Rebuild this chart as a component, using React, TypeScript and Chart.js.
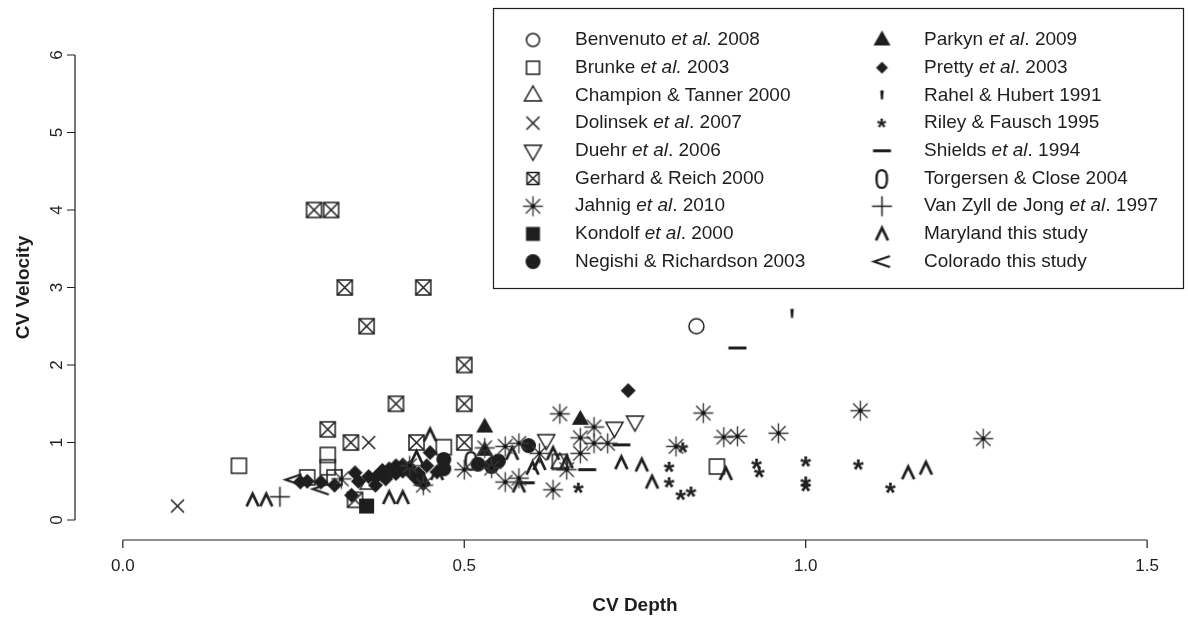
import React, { useEffect, useRef } from "react";
import { Chart, registerables } from "chart.js";

Chart.register(...registerables);

// ---------- axis ticks & titles ----------
const X_TICKS = [0, 0.5, 1.0, 1.5];
const X_TICK_LABELS = ["0.0", "0.5", "1.0", "1.5"];
const Y_TICKS = [0, 1, 2, 3, 4, 5, 6];
const Y_TICK_LABELS = ["0", "1", "2", "3", "4", "5", "6"];
const X_TITLE = "CV Depth";
const Y_TITLE = "CV Velocity";

// ---------- data: [CV depth, CV velocity] ----------
const benvenuto = [[0.84, 2.5]];
const brunke = [[0.17, 0.7], [0.3, 0.84], [0.3, 0.68], [0.31, 0.55], [0.47, 0.94], [0.64, 0.75], [0.87, 0.69], [0.27, 0.55]];
const champion = [[0.36, 0.47], [0.64, 0.74]];
const dolinsek = [[0.08, 0.18], [0.36, 1.0]];
const duehr = [[0.62, 1.03], [0.72, 1.19], [0.75, 1.27]];
const gerhard = [[0.28, 4.0], [0.305, 4.0], [0.325, 3.0], [0.44, 3.0], [0.357, 2.5], [0.5, 2.0], [0.4, 1.5], [0.5, 1.5], [0.3, 1.17], [0.334, 1.0], [0.43, 1.0], [0.5, 1.0], [0.34, 0.26]];
const jahnig = [[0.32, 0.53], [0.42, 0.7], [0.44, 0.45], [0.5, 0.65], [0.53, 0.93], [0.54, 0.67], [0.56, 0.95], [0.56, 0.49], [0.58, 0.99], [0.58, 0.54], [0.61, 0.86], [0.63, 0.39], [0.64, 1.37], [0.65, 0.65], [0.67, 1.06], [0.67, 0.86], [0.69, 1.2], [0.69, 0.99], [0.71, 0.99], [0.81, 0.95], [0.85, 1.38], [0.88, 1.07], [0.9, 1.08], [0.96, 1.12], [1.08, 1.41], [1.26, 1.05]];
const kondolf = [[0.357, 0.18]];
const negishi = [[0.47, 0.78], [0.47, 0.66], [0.55, 0.76], [0.54, 0.69], [0.594, 0.96], [0.52, 0.72]];
const parkyn = [[0.53, 1.2], [0.67, 1.3], [0.53, 0.9]];
const pretty = [[0.26, 0.49], [0.27, 0.5], [0.29, 0.49], [0.31, 0.45], [0.34, 0.61], [0.345, 0.5], [0.335, 0.32], [0.37, 0.45], [0.38, 0.58], [0.39, 0.66], [0.4, 0.7], [0.385, 0.53], [0.41, 0.63], [0.43, 0.53], [0.433, 0.6], [0.45, 0.87], [0.445, 0.7], [0.54, 0.74], [0.74, 1.67], [0.36, 0.56], [0.4, 0.6], [0.42, 0.68], [0.44, 0.47], [0.46, 0.62], [0.37, 0.55], [0.39, 0.6], [0.41, 0.71], [0.42, 0.62], [0.38, 0.64]];
const rahel = [[0.98, 2.66]];
const riley = [[0.82, 0.93], [0.8, 0.68], [0.8, 0.48], [0.817, 0.32], [0.832, 0.36], [0.928, 0.72], [0.932, 0.61], [1.0, 0.75], [1.0, 0.49], [1.0, 0.43], [1.077, 0.71], [1.124, 0.41], [0.667, 0.41]];
const shields = [[0.9, 2.22], [0.73, 0.97], [0.68, 0.65], [0.59, 0.48]];
const torgersen = [[0.51, 0.77]];
const vanZyll = [[0.23, 0.3]];
const maryland = [[0.19, 0.26], [0.21, 0.26], [0.39, 0.29], [0.41, 0.29], [0.43, 0.81], [0.45, 1.1], [0.46, 0.6], [0.44, 0.52], [0.57, 0.86], [0.6, 0.67], [0.61, 0.73], [0.63, 0.86], [0.58, 0.44], [0.73, 0.74], [0.76, 0.71], [0.775, 0.49], [0.883, 0.6], [1.15, 0.61], [1.176, 0.67], [0.65, 0.75]];
const colorado = [[0.25, 0.52], [0.29, 0.4]];

// legend labels: text between | is italic
const SERIES = [
  { label: "Benvenuto |et al.| 2008", sym: "circleOpen", data: benvenuto },
  { label: "Brunke |et al.| 2003", sym: "squareOpen", data: brunke },
  { label: "Champion & Tanner 2000", sym: "triOpen", data: champion },
  { label: "Dolinsek |et al|. 2007", sym: "cross", data: dolinsek },
  { label: "Duehr |et al|. 2006", sym: "triDownOpen", data: duehr },
  { label: "Gerhard & Reich 2000", sym: "boxX", data: gerhard },
  { label: "Jahnig |et al|. 2010", sym: "star", data: jahnig },
  { label: "Kondolf |et al|. 2000", sym: "squareFilled", data: kondolf },
  { label: "Negishi & Richardson 2003", sym: "circleFilled", data: negishi },
  { label: "Parkyn |et al|. 2009", sym: "triFilled", data: parkyn },
  { label: "Pretty |et al|. 2003", sym: "diamondFilled", data: pretty },
  { label: "Rahel & Hubert 1991", sym: "apos", data: rahel },
  { label: "Riley & Fausch 1995", sym: "asterisk", data: riley },
  { label: "Shields |et al|. 1994", sym: "dash", data: shields },
  { label: "Torgersen & Close 2004", sym: "zero", data: torgersen },
  { label: "Van Zyll de Jong |et al|. 1997", sym: "plus", data: vanZyll },
  { label: "Maryland this study", sym: "caret", data: maryland },
  { label: "Colorado this study", sym: "lt", data: colorado },
];

const INK = "#1e1e1e";
const FONT = "'Liberation Sans', Arial, Helvetica, sans-serif";

function makeSymbol(kind: string, legend = false): HTMLCanvasElement {
  const S = 41;
  const c = document.createElement("canvas");
  c.width = S;
  c.height = S;
  const g = c.getContext("2d") as CanvasRenderingContext2D;
  g.translate(S / 2, S / 2);
  g.strokeStyle = INK;
  g.fillStyle = INK;
  g.lineWidth = 1.5;
  const centeredText = (t: string, font: string, sx = 1) => {
    g.font = font;
    const m = g.measureText(t);
    const w = m.actualBoundingBoxLeft + m.actualBoundingBoxRight;
    const h = m.actualBoundingBoxAscent + m.actualBoundingBoxDescent;
    g.save();
    g.scale(sx, 1);
    g.textAlign = "left";
    g.textBaseline = "alphabetic";
    g.fillText(t, -w / 2 + m.actualBoundingBoxLeft, h / 2 - m.actualBoundingBoxDescent);
    g.restore();
  };
  switch (kind) {
    case "circleOpen":
      g.beginPath(); g.arc(0, 0, legend ? 6.5 : 7.5, 0, Math.PI * 2); g.stroke(); break;
    case "squareOpen":
      if (legend) g.strokeRect(-6.5, -6.5, 13, 13); else g.strokeRect(-7.5, -7.5, 15, 15); break;
    case "triOpen":
      g.beginPath(); g.moveTo(0, -9.5); g.lineTo(8.5, 5.5); g.lineTo(-8.5, 5.5); g.closePath(); g.stroke(); break;
    case "triDownOpen":
      g.beginPath(); g.moveTo(0, 9.5); g.lineTo(8.5, -5.5); g.lineTo(-8.5, -5.5); g.closePath(); g.stroke(); break;
    case "cross":
      g.beginPath(); g.moveTo(-6.5, -6.5); g.lineTo(6.5, 6.5); g.moveTo(6.5, -6.5); g.lineTo(-6.5, 6.5); g.stroke(); break;
    case "boxX": {
      const r = legend ? 6 : 7.5;
      g.strokeRect(-r, -r, 2 * r, 2 * r);
      g.beginPath(); g.moveTo(-r, -r); g.lineTo(r, r); g.moveTo(r, -r); g.lineTo(-r, r); g.stroke(); break;
    }
    case "star": {
      g.strokeStyle = "#3a3a3a";
      g.lineWidth = 1.4;
      const r = 10, d = 7.2;
      g.beginPath();
      g.moveTo(-r, 0); g.lineTo(r, 0); g.moveTo(0, -r); g.lineTo(0, r);
      g.moveTo(-d, -d); g.lineTo(d, d); g.moveTo(d, -d); g.lineTo(-d, d);
      g.stroke();
      g.fillStyle = "#111";
      g.fillRect(-1.8, -1.8, 3.6, 3.6);
      break;
    }
    case "squareFilled":
      if (legend) g.fillRect(-7, -7, 14, 14); else g.fillRect(-7.5, -7.5, 15, 15); break;
    case "circleFilled":
      g.beginPath(); g.arc(0, 0, 7.5, 0, Math.PI * 2); g.fill(); break;
    case "triFilled":
      g.beginPath(); g.moveTo(0, -9.5); g.lineTo(8.5, 5.5); g.lineTo(-8.5, 5.5); g.closePath(); g.fill(); break;
    case "diamondFilled": {
      const r = legend ? 6 : 7.5;
      g.beginPath(); g.moveTo(0, -r); g.lineTo(r, 0); g.lineTo(0, r); g.lineTo(-r, 0); g.closePath(); g.fill(); break;
    }
    case "apos":
      g.beginPath(); g.moveTo(-1.7, -5); g.lineTo(1.7, -5); g.lineTo(1.1, 4); g.lineTo(-1.1, 4); g.closePath(); g.fill(); break;
    case "asterisk":
      centeredText("*", "bold " + (legend ? 24 : 28) + "px " + FONT); break;
    case "dash":
      g.fillRect(-9, -1.5, 18, 3); break;
    case "zero":
      centeredText("0", "30px " + FONT, 0.9); break;
    case "plus":
      g.beginPath(); g.moveTo(-10, 0); g.lineTo(10, 0); g.moveTo(0, -10); g.lineTo(0, 10); g.stroke(); break;
    case "caret":
      g.lineWidth = 2.8;
      g.lineJoin = "miter";
      g.beginPath(); g.moveTo(-6, 6.5); g.lineTo(0, -6); g.lineTo(6, 6.5); g.stroke(); break;
    case "lt":
      g.lineWidth = 2.2;
      g.beginPath(); g.moveTo(8, -5.5); g.lineTo(-8, 0); g.lineTo(8, 5.5); g.stroke(); break;
  }
  return c;
}

function drawRich(ctx: CanvasRenderingContext2D, label: string, x: number, y: number, size: number) {
  const parts = label.split("|");
  let cx = x;
  parts.forEach((p, i) => {
    ctx.font = (i % 2 === 1 ? "italic " : "") + size + "px " + FONT;
    ctx.fillText(p, cx, y);
    cx += ctx.measureText(p).width;
  });
}

export default function App() {
  const ref = useRef<HTMLCanvasElement | null>(null);

  useEffect(() => {
    if (!ref.current) return;
    const plotSyms = SERIES.map((s) => makeSymbol(s.sym));
    const legendSyms = SERIES.map((s) => makeSymbol(s.sym, true));

    const rPlugin = {
      id: "rStyle",
      afterDraw(chart: any) {
        const ctx: CanvasRenderingContext2D = chart.ctx;
        const xs = chart.scales.x;
        const ys = chart.scales.y;
        const area = chart.chartArea;
        ctx.save();
        ctx.strokeStyle = INK;
        ctx.fillStyle = INK;
        ctx.lineWidth = 1.2;

        // x axis
        const axY = area.bottom;
        ctx.beginPath();
        ctx.moveTo(xs.getPixelForValue(X_TICKS[0]), axY);
        ctx.lineTo(xs.getPixelForValue(X_TICKS[X_TICKS.length - 1]), axY);
        X_TICKS.forEach((v) => {
          const p = xs.getPixelForValue(v);
          ctx.moveTo(p, axY);
          ctx.lineTo(p, axY + 8);
        });
        // y axis
        const axX = area.left;
        ctx.moveTo(axX, ys.getPixelForValue(Y_TICKS[0]));
        ctx.lineTo(axX, ys.getPixelForValue(Y_TICKS[Y_TICKS.length - 1]));
        Y_TICKS.forEach((v) => {
          const p = ys.getPixelForValue(v);
          ctx.moveTo(axX, p);
          ctx.lineTo(axX - 8, p);
        });
        ctx.stroke();

        ctx.font = "17px " + FONT;
        ctx.textAlign = "center";
        ctx.textBaseline = "middle";
        X_TICKS.forEach((v, i) => ctx.fillText(X_TICK_LABELS[i], xs.getPixelForValue(v), axY + 26));
        Y_TICKS.forEach((v, i) => {
          ctx.save();
          ctx.translate(axX - 18, ys.getPixelForValue(v));
          ctx.rotate(-Math.PI / 2);
          ctx.fillText(Y_TICK_LABELS[i], 0, 0);
          ctx.restore();
        });

        // titles
        ctx.font = "bold 19px " + FONT;
        ctx.fillText(X_TITLE, xs.getPixelForValue(0.75), 606);
        ctx.save();
        ctx.translate(24, ys.getPixelForValue(3));
        ctx.rotate(-Math.PI / 2);
        ctx.fillText(Y_TITLE, 0, 0);
        ctx.restore();

        // legend
        const bx = 493, by = 8, bw = 690, bh = 280;
        ctx.fillStyle = "#ffffff";
        ctx.fillRect(bx, by, bw, bh);
        ctx.strokeStyle = INK;
        ctx.lineWidth = 1.2;
        ctx.strokeRect(bx + 0.5, by + 0.5, bw, bh);
        ctx.fillStyle = INK;
        ctx.textAlign = "left";
        ctx.textBaseline = "middle";
        SERIES.forEach((s, i) => {
          const col = i < 9 ? 0 : 1;
          const row = i % 9;
          const y = 40 + row * 27.7;
          const symX = col === 0 ? 533 : 882;
          const txtX = col === 0 ? 575 : 924;
          const im = legendSyms[i];
          ctx.drawImage(im, symX - im.width / 2, y - im.height / 2);
          drawRich(ctx, s.label, txtX, y, 19);
        });
        ctx.restore();
      },
    };

    const chart = new Chart(ref.current, {
      type: "scatter",
      data: {
        datasets: SERIES.map((s, i) => ({
          label: s.label.replace(/\|/g, ""),
          data: s.data.map(([x, y]) => ({ x, y })),
          pointStyle: plotSyms[i] as any,
          pointRadius: 6,
          pointHoverRadius: 6,
          borderColor: INK,
          backgroundColor: INK,
        })),
      },
      options: {
        animation: false,
        responsive: true,
        maintainAspectRatio: false,
        events: [],
        layout: { padding: { left: 75, right: 3, top: 36, bottom: 77 } },
        plugins: { legend: { display: false }, tooltip: { enabled: false } },
        scales: {
          x: { type: "linear", min: -0.07004, max: 1.5496, display: false },
          y: { type: "linear", min: -0.258, max: 6.245, display: false },
        },
      },
      plugins: [rPlugin],
    });
    return () => chart.destroy();
  }, []);

  return (
    <div style={{ position: "fixed", left: 0, top: 0, width: 1188, height: 617, background: "#fff" }}>
      <canvas ref={ref} />
    </div>
  );
}
